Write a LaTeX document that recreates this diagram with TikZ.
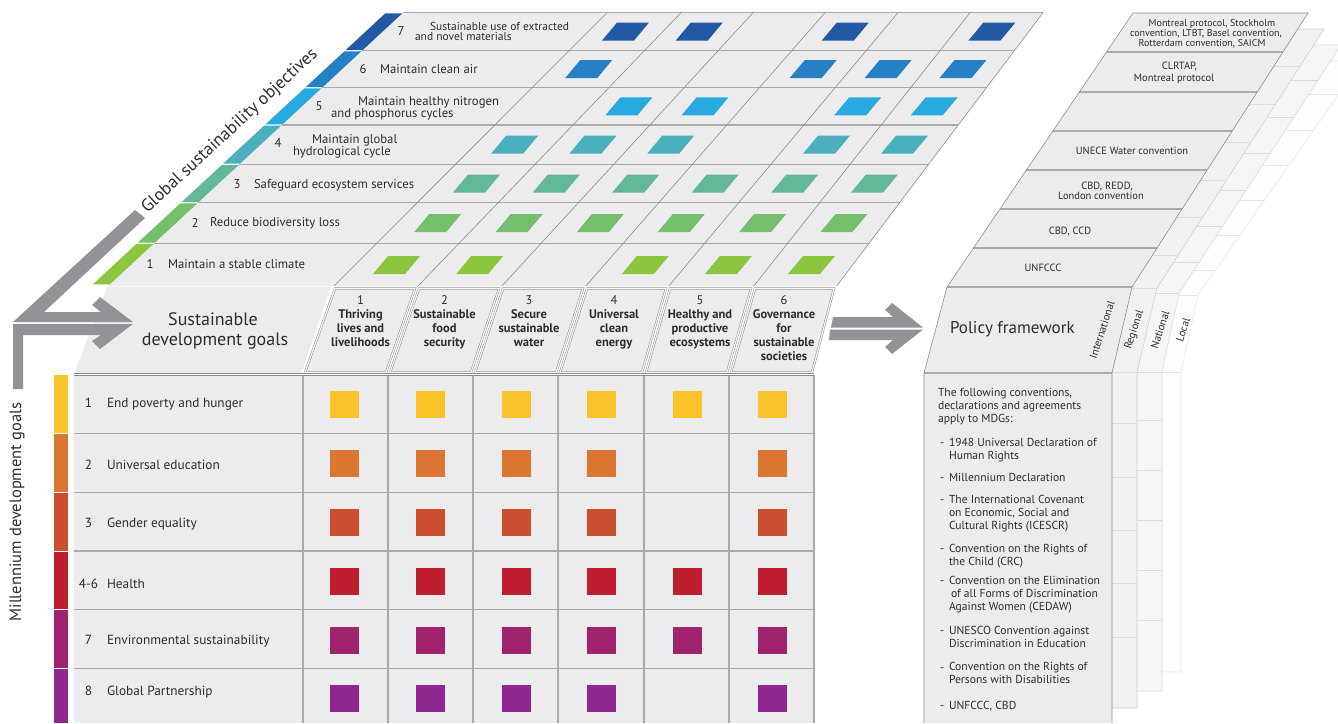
\documentclass[tikz,border=0pt]{standalone}
\usepackage{fontspec}
\setmainfont{PT Sans}
\usetikzlibrary{calc}
\definecolor{cellgray}{HTML}{ECECEE}
\definecolor{rowline}{HTML}{A9AAAD}
\definecolor{colline}{HTML}{8C8D90}
\definecolor{arrowgray}{HTML}{929396}
\definecolor{txt}{HTML}{2D2D2D}
\definecolor{gso1}{HTML}{8CC63F}
\definecolor{gso2}{HTML}{74BF6B}
\definecolor{gso3}{HTML}{62B897}
\definecolor{gso4}{HTML}{4BAFBD}
\definecolor{gso5}{HTML}{28AAE1}
\definecolor{gso6}{HTML}{2581C4}
\definecolor{gso7}{HTML}{2358A5}
\definecolor{mdg1}{HTML}{FBC32A}
\definecolor{mdg2}{HTML}{DC7633}
\definecolor{mdg3}{HTML}{CB4E2E}
\definecolor{mdg4}{HTML}{BE1E2D}
\definecolor{mdg5}{HTML}{A1226D}
\definecolor{mdg6}{HTML}{8E278F}
\definecolor{layerR}{HTML}{F1F1F2}
\definecolor{layerN}{HTML}{F6F6F7}
\definecolor{layerL}{HTML}{FDFDFD}
\definecolor{layerRl}{HTML}{CFCFD2}
\definecolor{layerNl}{HTML}{DCDCDE}
\definecolor{layerLl}{HTML}{E6E6E8}

\newcommand{\gsomark}[3]{%
  \pgfmathsetmacro\mya{{12.7,50.7,87.7,125,164.3,202.7,243.3,287}[7-#1]}%
  \pgfmathsetmacro\myb{{12.7,50.7,87.7,125,164.3,202.7,243.3,287}[8-#1]}%
  \pgfmathsetmacro\mcy{(\mya+\myb)/2}%
  \pgfmathsetmacro\mff{(287-\mcy)/274.3}%
  \pgfmathsetmacro\mba{{333,417,501,585,668,753,836}[#2-1]}%
  \pgfmathsetmacro\mta{{607,681,753,825,898,970,1043}[#2-1]}%
  \pgfmathsetmacro\mbb{{333,417,501,585,668,753,836}[#2]}%
  \pgfmathsetmacro\mtb{{607,681,753,825,898,970,1043}[#2]}%
  \pgfmathsetmacro\mcx{(\mba+(\mta-\mba)*\mff+\mbb+(\mtb-\mbb)*\mff)/2}%
  \fill[#3] (\mcx-8.5,\mcy-9) -- (\mcx+23.5,\mcy-9) -- (\mcx+8.5,\mcy+9) -- (\mcx-23.5,\mcy+9) -- cycle;%
}
\newcommand{\gsostrip}[2]{%
  \pgfmathsetmacro\sya{{12.7,50.7,87.7,125,164.3,202.7,243.3,285}[7-#1]}%
  \pgfmathsetmacro\syb{{12.7,50.7,87.7,125,164.3,202.7,243.3,285}[8-#1]}%
  \pgfmathsetmacro\sfa{(287-\sya-0.6)/274.3}%
  \pgfmathsetmacro\sfb{(287-\syb+0.6)/274.3}%
  \pgfmathsetmacro\sxa{107+296*\sfa}%
  \pgfmathsetmacro\sxb{107+296*\sfb}%
  \fill[#2] (\sxa-17,\sya+0.6) -- (\sxa,\sya+0.6) -- (\sxb,\syb-0.6) -- (\sxb-17,\syb-0.6) -- cycle;%
}

\begin{document}
\begin{tikzpicture}[x=1pt,y=-1pt,
  txtn/.style={inner sep=0pt, outer sep=0pt, text=txt},
  gsolbl/.style={txtn, font=\fontsize{12.7}{14}\selectfont, anchor=base west},
  gsonum/.style={txtn, font=\fontsize{12.7}{14}\selectfont, anchor=base},
  mdglbl/.style={txtn, font=\fontsize{13.3}{15}\selectfont, anchor=base west},
  mdgnum/.style={txtn, font=\fontsize{13.3}{15}\selectfont, anchor=base},
  sdghdr/.style={txtn, font=\bfseries\fontsize{12.5}{14}\selectfont, align=center, anchor=north},
  bigtxt/.style={txtn, font=\fontsize{18}{20}\selectfont},
  pol/.style={txtn, font=\fontsize{10.5}{12}\selectfont, anchor=base},
  bodytxt/.style={txtn, font=\fontsize{11.6}{12.9}\selectfont, anchor=north west, align=left},
  dashtxt/.style={txtn, font=\fontsize{11.6}{12.9}\selectfont, anchor=base west},
  lev/.style={txtn, font=\fontsize{10.8}{12}\selectfont, rotate=72},
  rowln/.style={draw=rowline, line width=1.5pt},
  colln/.style={draw=colline, line width=0.6pt},
  dbl/.style={draw=colline, line width=0.5pt, double=white!70!cellgray, double distance=1.2pt},
  garrow/.style={fill=arrowgray},
]
\useasboundingbox (0,0) rectangle (1338,723);
\clip (0,0) rectangle (1338,723);

%% ---------- top slanted grid (global sustainability objectives)
\fill[cellgray] (107,287) -- (403,12.7) -- (1043,12.7) -- (836,287) -- cycle;
\foreach \y in {12.7,50.7,87.7,125,164.3,202.7,243.3}{
  \pgfmathsetmacro\ff{(287-\y)/274.3}
  \draw[rowln] (107+296*\ff,\y) -- (836+207*\ff,\y);
}
\foreach \b/\t in {333/607,417/681,501/753,585/825,668/898,753/970,836/1043}
  \draw[colln] (\b,287) -- (\t,12.7);
\draw[dbl] (107,287) -- (838,287);

\foreach \c in {1,2,4,5,6} {\gsomark{1}{\c}{gso1}}
\foreach \c in {1,2,3,4,5,6} {\gsomark{2}{\c}{gso2}}
\foreach \c in {1,2,3,4,5,6} {\gsomark{3}{\c}{gso3}}
\foreach \c in {1,2,3,5,6} {\gsomark{4}{\c}{gso4}}
\foreach \c in {2,3,5,6} {\gsomark{5}{\c}{gso5}}
\foreach \c in {1,4,5,6} {\gsomark{6}{\c}{gso6}}
\foreach \c in {1,2,4,6} {\gsomark{7}{\c}{gso7}}

\gsostrip{1}{gso1}\gsostrip{2}{gso2}\gsostrip{3}{gso3}\gsostrip{4}{gso4}
\gsostrip{5}{gso5}\gsostrip{6}{gso6}\gsostrip{7}{gso7}

\node[gsonum] (n1) at (150,268) {1};
\node[gsolbl] (t1) at (168,268) {Maintain a stable climate};
\node[gsonum] (n2) at (195,227) {2};
\node[gsolbl] (t2) at (210,226.5) {Reduce biodiversity loss};
\node[gsonum] (n3) at (237,188.5) {3};
\node[gsolbl] (t3) at (254,188.5) {Safeguard ecosystem services};
\node[gsonum] (n4) at (278,147) {4};
\node[gsolbl] (t4a) at (312,143) {Maintain global};
\node[gsolbl] (t4b) at (293,155) {hydrological cycle};
\node[gsonum] (n5) at (319,110) {5};
\node[gsolbl] (t5a) at (358,105) {Maintain healthy nitrogen};
\node[gsolbl] (t5b) at (331,117) {and phosphorus cycles};
\node[gsonum] (n6) at (363,73) {6};
\node[gsolbl] (t6) at (380,73.5) {Maintain clean air};
\node[gsonum] (n7) at (401,35) {7};
\node[gsolbl, font=\fontsize{11.5}{13}\selectfont] (t7a) at (430,30) {Sustainable use of extracted};
\node[gsolbl, font=\fontsize{11.5}{13}\selectfont] (t7b) at (415,40.5) {and novel materials};

\node[txtn, font=\fontsize{17.5}{20}\selectfont, rotate=42.8] (gsotitle) at (230,131) {Global sustainability objectives};

%% ---------- header row
\fill[cellgray] (107,287) -- (331,287) -- (301,374) -- (74,374) -- cycle;
\draw[dbl] (74,374) -- (301,374);
\foreach \bl/\br/\hl/\hr in {333/417/303/388,417/501/388/473,501/585/473/558,585/668/558/644,668/753/644/729,753/836/729/814}
  \path[fill=cellgray, dbl] (\bl+2,288.5) -- (\br-2,288.5) -- (\hr-2,372.5) -- (\hl+2,372.5) -- cycle;

\node[bigtxt, anchor=base] (sdga) at (213,325) {Sustainable};
\node[bigtxt, anchor=base] (sdgb) at (215,345) {development goals};

\node[sdghdr] (h1) at (360.5,295.5) {\mdseries 1\\Thriving\\lives and\\livelihoods};
\node[sdghdr] (h2) at (444.5,295.5) {\mdseries 2\\Sustainable\\food\\security};
\node[sdghdr] (h3) at (529,295.5) {\mdseries 3\\Secure\\sustainable\\water};
\node[sdghdr] (h4) at (614,295.5) {\mdseries 4\\Universal\\clean\\energy};
\node[sdghdr] (h5) at (700,295.5) {\mdseries 5\\Healthy and\\productive\\ecosystems};
\node[sdghdr] (h6) at (784,295.5) {\mdseries 6\\Governance\\for\\sustainable\\societies};

%% ---------- MDG table
\fill[cellgray] (74,375) rectangle (814,723);
\foreach \y in {433.3,492.3,551,609.3,668.3}
  \draw[draw=rowline, line width=1.2pt] (74,\y) -- (814,\y);
\foreach \x in {303,388,473,558,644,729,814}
  \draw[draw=rowline, line width=1.2pt] (\x,375) -- (\x,723);
\draw[dbl] (74,374.5) -- (814,374.5);

\foreach \ya/\yb/\col in {375/432.8/mdg1,433.8/491.8/mdg2,492.8/550.5/mdg3,551.5/608.8/mdg4,609.8/667.8/mdg5,668.8/723/mdg6}
  \fill[\col] (54,\ya) rectangle (68,\yb);

\foreach \x in {330,416,502,587,673,758} \fill[mdg1] (\x,391) rectangle ++(29,27);
\foreach \x in {330,416,502,587,758} \fill[mdg2] (\x,450) rectangle ++(29,27);
\foreach \x in {330,416,502,587,758} \fill[mdg3] (\x,509) rectangle ++(29,27);
\foreach \x in {330,416,502,587,673,758} \fill[mdg4] (\x,568) rectangle ++(29,27);
\foreach \x in {330,416,502,587,673,758} \fill[mdg5] (\x,627) rectangle ++(29,27);
\foreach \x in {330,416,502,587,758} \fill[mdg6] (\x,685) rectangle ++(29,27);

\node[mdgnum] (m1) at (88.5,407.7) {1};
\node[mdglbl] (mt1) at (107,407.7) {End poverty and hunger};
\node[mdgnum] (m2) at (88.5,469) {2};
\node[mdglbl] (mt2) at (107,469) {Universal education};
\node[mdgnum] (m3) at (88.5,527) {3};
\node[mdglbl] (mt3) at (107,527) {Gender equality};
\node[mdgnum] (m4) at (88.5,588) {4-6};
\node[mdglbl] (mt4) at (107,588) {Health};
\node[mdgnum] (m5) at (88.5,644) {7};
\node[mdglbl] (mt5) at (107,644) {Environmental sustainability};
\node[mdgnum] (m6) at (88.5,695) {8};
\node[mdglbl] (mt6) at (107,695) {Global Partnership};

\node[txtn, font=\fontsize{16.5}{18}\selectfont, rotate=90] (mdgtitle) at (17,512) {Millennium development goals};

%% ---------- left arrows
\path[garrow] (135,210) -- (145,218) -- (44,312) -- (101,312) -- (92,305) -- (100,297) -- (133,322) -- (13,322) -- cycle;
\path[garrow] (13,324) -- (133,324) -- (100,349) -- (92,341) -- (101,335) -- (23,335) -- (23,389) -- (13,389) -- cycle;

%% ---------- middle double arrow
\path[garrow] (833,317) -- (893,317) -- (885,310) -- (892,303) -- (923,327.5) -- (831,327.5) -- cycle;
\path[garrow] (830,329.5) -- (923,329.5) -- (892,354) -- (885,347) -- (893,340) -- (829,340) -- cycle;

%% ---------- policy framework: back layers
% Local
\path[fill=layerL, draw=layerLl, line width=0.6pt] (1310,61) -- (1362,61) -- (1198,295) -- (1181,372) -- (1181,672) -- (1100,672) -- (1100,373) -- (1120,287) -- cycle;
\begin{scope}
  \clip (1310,61) -- (1362,61) -- (1198,295) -- (1181,372) -- (1181,672) -- (1100,672) -- (1100,373) -- (1120,287) -- cycle;
  \foreach \y in {94,130,165,200,235,270,295,372}
    \draw[layerLl, line width=0.6pt] (1100,\y) -- (1400,\y);
\end{scope}
% National
\path[fill=layerN, draw=layerNl, line width=0.6pt] (1300,45) -- (1341,45) -- (1179,293) -- (1162,372) -- (1162,691) -- (1100,691) -- (1100,373) -- (1120,287) -- cycle;
\begin{scope}
  \clip (1300,45) -- (1341,45) -- (1179,293) -- (1162,372) -- (1162,691) -- (1100,691) -- (1100,373) -- (1120,287) -- cycle;
  \foreach \y in {80,117.3,153.6,190,226.3,262.7,293,372,420,470,520,570,620}
    \draw[layerNl, line width=0.6pt] (1100,\y) -- (1400,\y);
\end{scope}
% Regional
\path[fill=layerR, draw=layerRl, line width=0.6pt] (1290,29) -- (1324,29) -- (1157,288) -- (1137,372) -- (1137,708) -- (1100,708) -- (1100,373) -- (1120,287) -- cycle;
\begin{scope}
  \clip (1290,29) -- (1324,29) -- (1157,288) -- (1137,372) -- (1137,708) -- (1100,708) -- (1100,373) -- (1120,287) -- cycle;
  \foreach \y in {66,104.6,142.3,180,217.7,255.3,288,372,423,477,530,583,637}
    \draw[layerNl, line width=0.6pt] (1100,\y) -- (1400,\y);
\end{scope}

%% ---------- policy framework: international (front)
\path[fill=cellgray] (924,723) -- (924,373) -- (947,287) -- (1133,13) -- (1308,13) -- (1132,287) -- (1112,373) -- (1112,723) -- cycle;
\foreach \y in {52,92,131,170,209,248}{
  \pgfmathsetmacro\ff{(287-\y)/274}
  \draw[rowln] (947+186*\ff,\y) -- (1132+176*\ff,\y);
}
\draw[rowln] (947,287) -- (1132,287);
\draw[rowln] (924,373) -- (1112,373);
\draw[colln] (924,723) -- (924,373) -- (947,287) -- (1133,13) -- (1308,13) -- (1132,287) -- (1112,373) -- (1112,723);

\node[pol, font=\fontsize{10}{12}\selectfont] (p7a) at (1212,26) {Montreal protocol, Stockholm};
\node[pol, font=\fontsize{10}{12}\selectfont] (p7b) at (1206,36.5) {convention, LTBT, Basel convention,};
\node[pol, font=\fontsize{10}{12}\selectfont] (p7c) at (1202,46.5) {Rotterdam convention, SAICM};
\node[pol] (p6a) at (1179.5,69.5) {CLRTAP,};
\node[pol] (p6b) at (1174,81) {Montreal protocol};
\node[pol] (p4) at (1132,154.5) {UNECE Water convention};
\node[pol] (p3a) at (1107,189.3) {CBD, REDD,};
\node[pol] (p3b) at (1101,199.5) {London convention};
\node[pol] (p2) at (1070,234.3) {CBD, CCD};
\node[pol] (p1) at (1043,271) {UNFCCC};

\node[bigtxt, font=\fontsize{17}{20}\selectfont, anchor=base west] (polf) at (950,333) {Policy framework};
\node[lev] (lint) at (1102,330) {International};
\node[lev] (lreg) at (1134.5,330) {Regional};
\node[lev] (lnat) at (1160,330) {National};
\node[lev] (lloc) at (1183,330) {Local};

\node[bodytxt] (intro) at (938,388.2) {The following conventions,\\declarations and agreements\\apply to MDGs:};
\foreach \nm/\yb in {d1/446.7,d2/481.7,d3/503.5,d4/552.3,d5/584.5,d6/634.3,d7/671,d8/709.3}
  \node[dashtxt] (\nm) at (940,\yb) {-};
\node[bodytxt] (i1) at (949,438.4) {1948 Universal Declaration of\\Human Rights};
\node[bodytxt] (i2) at (949,473.4) {Millennium Declaration};
\node[bodytxt] (i3) at (949,495.2) {The International Covenant\\on Economic, Social and\\Cultural Rights (ICESCR)};
\node[bodytxt] (i4) at (949,544) {Convention on the Rights of\\the Child (CRC)};
\node[bodytxt] (i5) at (949,576.2) {Convention on the Elimination\\\hspace{2pt}of all Forms of Discrimination\\Against Women (CEDAW)};
\node[bodytxt] (i6) at (949,626) {UNESCO Convention against\\Discrimination in Education};
\node[bodytxt] (i7) at (949,662.7) {Convention on the Rights of\\Persons with Disabilities};
\node[bodytxt] (i8) at (949,701) {UNFCCC, CBD};
\end{tikzpicture}
\end{document}
